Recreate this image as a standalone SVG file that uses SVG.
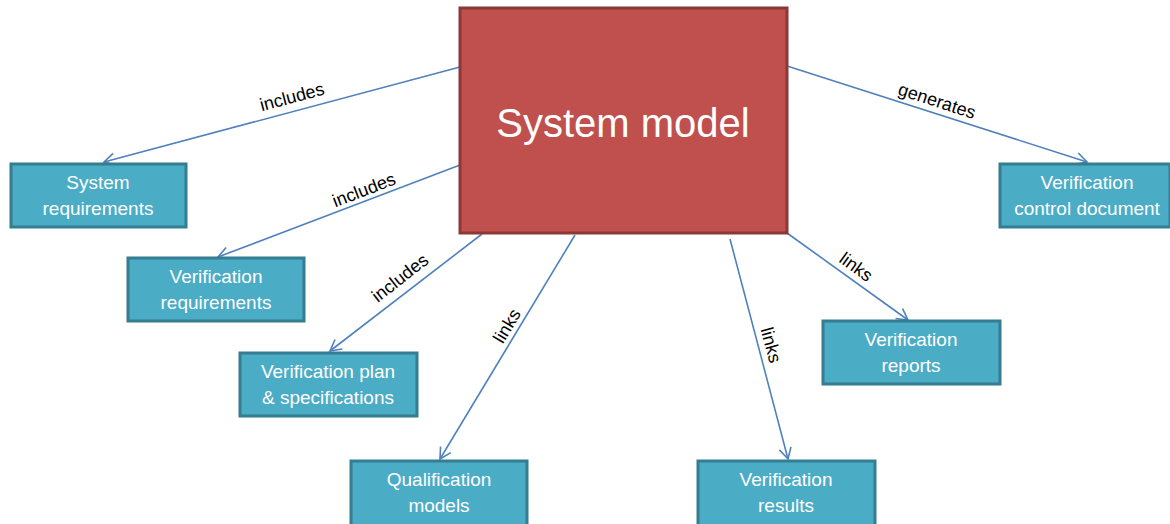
<svg xmlns="http://www.w3.org/2000/svg" width="1170" height="524" viewBox="0 0 1170 524">
<style>
.bg{fill:#ffffff}
.main rect{fill:#c0504d;stroke:#8c3836;stroke-width:3}
.main text{fill:#ffffff;font-family:"Liberation Sans",Arial,sans-serif;font-size:40px;text-anchor:middle}
.node rect{fill:#4bacc6;stroke:#357d91;stroke-width:3}
.node text{fill:#ffffff;font-family:"Liberation Sans",Arial,sans-serif;font-size:19px;text-anchor:middle}
.edge{stroke:#4f81bd;stroke-width:1.6;fill:none;marker-end:url(#arr)}
.lbl{fill:#000000;font-family:"Liberation Sans",Arial,sans-serif;font-size:18px;text-anchor:middle}
</style>
<defs>
<marker id="arr" markerUnits="userSpaceOnUse" markerWidth="14" markerHeight="14" viewBox="0 0 14 14" refX="12" refY="7" orient="auto">
<path d="M1,1 L12,7 L1,13" fill="none" stroke="#4f81bd" stroke-width="1.6"/>
</marker>
</defs>
<rect class="bg" x="0" y="0" width="1170" height="524"/>
<g id="connectors">
<line class="edge" x1="460" y1="67" x2="104" y2="162"/>
<line class="edge" x1="460" y1="165" x2="218" y2="257"/>
<line class="edge" x1="482" y1="234" x2="330" y2="351"/>
<line class="edge" x1="575" y1="235" x2="440" y2="459"/>
<line class="edge" x1="730" y1="239" x2="788" y2="459"/>
<line class="edge" x1="787" y1="233" x2="908" y2="320"/>
<line class="edge" x1="787" y1="66" x2="1087" y2="162"/>
<text class="lbl" transform="translate(292,97) rotate(-15)" y="6">includes</text>
<text class="lbl" transform="translate(364,190) rotate(-21)" y="6">includes</text>
<text class="lbl" transform="translate(400,278) rotate(-38)" y="6">includes</text>
<text class="lbl" transform="translate(507,326) rotate(-59)" y="6">links</text>
<text class="lbl" transform="translate(771,345) rotate(75)" y="6">links</text>
<text class="lbl" transform="translate(856,267) rotate(36)" y="6">links</text>
<text class="lbl" transform="translate(937,101) rotate(18)" y="6">generates</text>
</g>
<g id="system-model" class="main">
<rect x="460" y="8" width="327" height="225"/>
<text x="623" y="137">System model</text>
</g>
<g id="system-requirements" class="node">
<rect x="11" y="164" width="175" height="63"/>
<text x="98" y="189">System</text>
<text x="98" y="215">requirements</text>
</g>
<g id="verification-requirements" class="node">
<rect x="128" y="258" width="176" height="63"/>
<text x="216" y="283">Verification</text>
<text x="216" y="309">requirements</text>
</g>
<g id="verification-plan" class="node">
<rect x="240" y="353" width="177" height="63"/>
<text x="328" y="378">Verification plan</text>
<text x="328" y="404">&amp; specifications</text>
</g>
<g id="qualification-models" class="node">
<rect x="351" y="461" width="176" height="66"/>
<text x="439" y="486">Qualification</text>
<text x="439" y="512">models</text>
</g>
<g id="verification-results" class="node">
<rect x="698" y="461" width="177" height="66"/>
<text x="786" y="486">Verification</text>
<text x="786" y="512">results</text>
</g>
<g id="verification-reports" class="node">
<rect x="823" y="321" width="177" height="63"/>
<text x="911" y="346">Verification</text>
<text x="911" y="372">reports</text>
</g>
<g id="verification-control-document" class="node">
<rect x="1000" y="164" width="170" height="63"/>
<text x="1087" y="189">Verification</text>
<text x="1087" y="215">control document</text>
</g>
</svg>
